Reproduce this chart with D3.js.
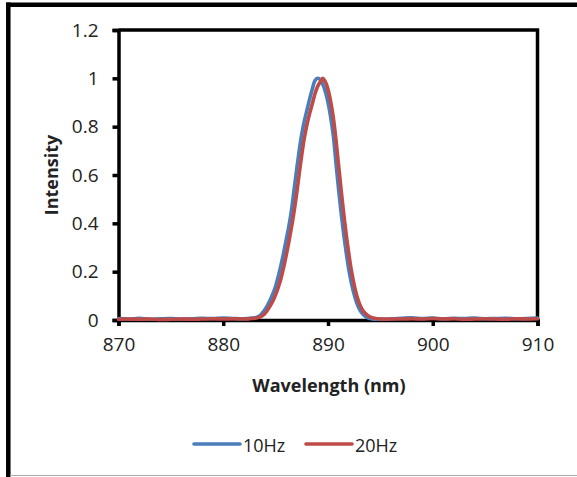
<!DOCTYPE html>
<html><head><meta charset="utf-8">
<script src="https://cdn.jsdelivr.net/npm/d3@7"></script>
<style>body{margin:0;background:#fff}svg{display:block}text{font-family:"Open Sans","Noto Sans",sans-serif;fill:#222}</style>
</head><body>
<svg id="c" width="577" height="477"></svg>
<script>
const wavelength = [870,871,872,873,874,875,876,877,878,879,880,881,
882,882.25,882.5,882.75,883,883.25,883.5,883.75,884,884.25,884.5,884.75,
885,885.25,885.5,885.75,886,886.25,886.5,886.75,887,887.25,887.5,887.75,
888,888.25,888.5,888.75,889,889.25,889.5,889.75,890,890.25,890.5,890.75,
891,891.25,891.5,891.75,892,892.25,892.5,892.75,893,893.25,893.5,893.75,
894,894.25,894.5,894.75,895,895.25,895.5,895.75,896,
897,898,899,900,901,902,903,904,905,906,907,908,909,910];
const hz10 = [0.006,0.004,0.007,0.003,0.005,0.006,0.004,0.005,0.007,0.006,0.008,0.006,
0.005,0.006,0.007,0.008,0.009,0.012,0.018,0.03,0.045,0.063,0.085,0.11,
0.14,0.18,0.225,0.275,0.33,0.385,0.45,0.535,0.62,0.70,0.77,0.825,
0.87,0.915,0.955,0.99,1.0,0.995,0.975,0.945,0.90,0.84,0.765,0.655,
0.545,0.445,0.355,0.275,0.205,0.15,0.105,0.07,0.045,0.028,0.017,0.01,
0.006,0.004,0.003,0.003,0.004,0.003,0.004,0.003,0.005,
0.007,0.009,0.006,0.008,0.005,0.007,0.006,0.008,0.005,0.006,0.007,0.005,0.006,0.008];
const hz20 = [0.003,0.004,0.003,0.004,0.002,0.003,0.004,0.003,0.004,0.005,0.004,0.005,
0.004,0.004,0.005,0.006,0.007,0.009,0.012,0.018,0.028,0.042,0.06,0.08,
0.105,0.135,0.17,0.215,0.265,0.32,0.38,0.445,0.52,0.605,0.685,0.755,
0.81,0.855,0.895,0.935,0.965,0.985,1.0,0.985,0.955,0.905,0.84,0.75,
0.645,0.54,0.44,0.35,0.27,0.2,0.145,0.1,0.068,0.045,0.03,0.02,
0.013,0.009,0.007,0.005,0.004,0.004,0.003,0.004,0.004,
0.004,0.005,0.004,0.006,0.004,0.005,0.003,0.004,0.005,0.004,0.003,0.005,0.004,0.005];
const seriesNames = ["10Hz","20Hz"];
const seriesColors = ["#4A7EBB","#BE4B48"];
const xTicks = [870,880,890,900,910];
const yTicks = [0,0.2,0.4,0.6,0.8,1,1.2];
const yTickLabels = ["0","0.2","0.4","0.6","0.8","1","1.2"];

const svg = d3.select("#c");
// outer frame
svg.append("line").attr("x1",8.3).attr("x2",8.3).attr("y1",2.5).attr("y2",477).attr("stroke","#000").attr("stroke-width",4.5);
svg.append("line").attr("x1",6).attr("x2",577).attr("y1",4.8).attr("y2",4.8).attr("stroke","#000").attr("stroke-width",4.5);
svg.append("line").attr("x1",10).attr("x2",577).attr("y1",475.5).attr("y2",475.5).attr("stroke","#aaa").attr("stroke-width",1.2);

const x = d3.scaleLinear().domain([870,910]).range([118.5,537.5]);
const y = d3.scaleLinear().domain([0,1.2]).range([320,30]);

const g = svg.append("g");
// plot border top/right
g.append("path").attr("d",`M${x(870)},${y(1.2)}H${x(910)}V${y(0)}`).attr("fill","none").attr("stroke","#000").attr("stroke-width",3.5);

const yAxis = g.append("g").attr("transform",`translate(${x(870)},0)`)
  .call(d3.axisLeft(y).tickValues(yTicks).tickFormat((d,i)=>yTickLabels[i]).tickSize(6).tickPadding(14));
yAxis.select(".domain").attr("stroke","#000").attr("stroke-width",3.5);
yAxis.selectAll(".tick line").attr("stroke","#000").attr("stroke-width",3.5);
yAxis.selectAll("text").attr("font-size",19).attr("fill","#222").style("font-family","'Open Sans'");

const xAxis = g.append("g").attr("transform",`translate(0,${y(0)})`)
  .call(d3.axisBottom(x).tickValues(xTicks).tickFormat(d3.format("d")).tickSize(6).tickPadding(12));
xAxis.select(".domain").attr("stroke","#000").attr("stroke-width",3.5);
xAxis.selectAll(".tick line").attr("stroke","#000").attr("stroke-width",3.5);
xAxis.selectAll("text").attr("font-size",19).attr("fill","#222").style("font-family","'Open Sans'");

const line = d3.line().x((d,i)=>x(wavelength[i])).y(d=>y(d)).curve(d3.curveCatmullRom.alpha(0.5));
[hz10,hz20].forEach((s,k)=>{
  g.append("path").datum(s).attr("d",line).attr("fill","none")
   .attr("stroke",seriesColors[k]).attr("stroke-width",3.6).attr("stroke-linejoin","round").attr("stroke-linecap","round");
});

svg.append("text").attr("x",329).attr("y",385).attr("text-anchor","middle").attr("dominant-baseline","central")
  .attr("font-size",18).attr("font-weight","bold").text("Wavelength (nm)");
svg.append("text").attr("transform","translate(51,175) rotate(-90)").attr("text-anchor","middle").attr("dominant-baseline","central")
  .attr("font-size",18).attr("font-weight","bold").text("Intensity");

const legX = [194,306];
seriesNames.forEach((n,k)=>{
  svg.append("line").attr("x1",legX[k]).attr("x2",legX[k]+46).attr("y1",444).attr("y2",444)
    .attr("stroke",seriesColors[k]).attr("stroke-width",3.6).attr("stroke-linecap","round");
  svg.append("text").attr("x",legX[k]+49).attr("y",445).attr("dominant-baseline","central")
    .attr("font-size",18).text(n);
});
</script>
</body></html>
